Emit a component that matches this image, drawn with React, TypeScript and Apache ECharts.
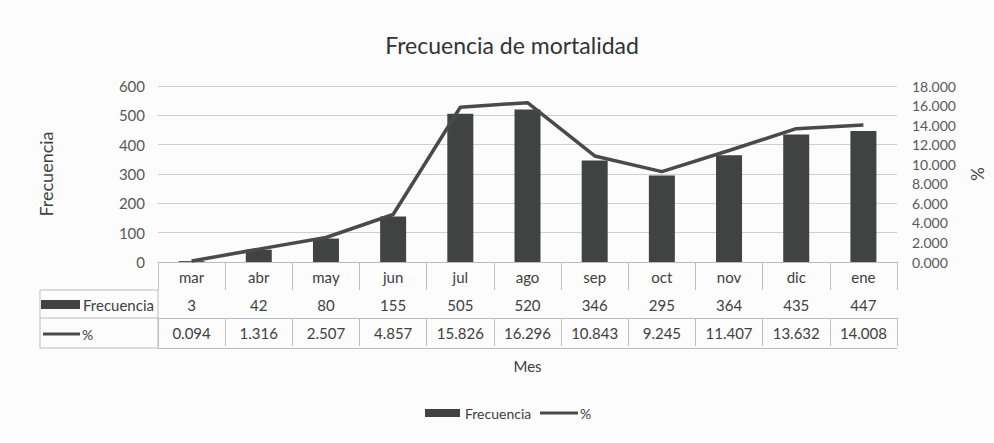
import React, { useEffect, useRef } from "react";
import * as echarts from "echarts";

const months = ["mar", "abr", "may", "jun", "jul", "ago", "sep", "oct", "nov", "dic", "ene"];
const frecuencia = [3, 42, 80, 155, 505, 520, 346, 295, 364, 435, 447];
const porcentaje = [0.094, 1.316, 2.507, 4.857, 15.826, 16.296, 10.843, 9.245, 11.407, 13.632, 14.008];
const leftTicks = { min: 0, max: 600, interval: 100 };
const rightTicks = { min: 0, max: 18, interval: 2 };

const FONT = "Lato, 'Open Sans', sans-serif";
const TXT = "#404040";
const TABLE_LINE = "#bdbdbd";
const BAR = "#404342";
const LINE = "#4a4a4a";

export default function App() {
  const ref = useRef<HTMLDivElement>(null);
  useEffect(() => {
    if (!ref.current) return;
    const chart = echarts.init(ref.current, null, { renderer: "svg" });
    const tableAxis = (data: string[], offset: number, showLabel: boolean, showTick: boolean) => ({
      type: "category",
      gridIndex: 0,
      position: "bottom",
      offset,
      data,
      boundaryGap: true,
      axisLine: { show: true, lineStyle: { color: TABLE_LINE, width: 1 } },
      axisTick: { show: showTick, length: 28, lineStyle: { color: TABLE_LINE } },
      axisLabel: { show: showLabel, margin: 7, fontSize: 15, color: TXT, fontFamily: FONT, interval: 0 },
      splitLine: { show: false },
    });
    chart.setOption({
      animation: false,
      backgroundColor: "#fcfcfc",
      textStyle: { fontFamily: FONT },
      title: {
        text: "Frecuencia de mortalidad",
        left: 507,
        textAlign: "center",
        top: 28,
        textStyle: { fontSize: 23, fontWeight: "normal", color: "#333", fontFamily: FONT },
      },
      grid: { left: 158, right: 96, top: 86, height: 176 },
      legend: [
        {
          left: 420,
          top: 401,
          itemWidth: 35,
          itemHeight: 8,
          itemGap: 4,
          textStyle: { fontSize: 14, color: TXT, fontFamily: FONT },
          data: [{ name: "Frecuencia", icon: "rect" }],
        },
        {
          left: 535,
          top: 401,
          itemWidth: 38,
          itemHeight: 3,
          textStyle: { fontSize: 14, color: TXT, fontFamily: FONT, padding: [0, 0, 0, -3] },
          data: [{ name: "%", icon: "rect" }],
        },
      ],
      xAxis: [
        {
          ...tableAxis(months, 0, true, true),
          name: "Mes",
          nameLocation: "middle",
          nameGap: 96,
          nameTextStyle: { fontSize: 15, color: TXT, fontFamily: FONT },
        },
        tableAxis(frecuencia.map(String), 28, true, true),
        tableAxis(porcentaje.map((v) => v.toFixed(3)), 56, true, true),
        tableAxis(months.map(() => ""), 86, false, false),
      ],
      yAxis: [
        {
          type: "value",
          ...leftTicks,
          name: "Frecuencia",
          nameLocation: "middle",
          nameRotate: 90,
          nameGap: 103,
          nameTextStyle: { fontSize: 18, color: TXT, fontFamily: FONT },
          axisLine: { show: false },
          axisTick: { show: false },
          axisLabel: { fontSize: 15, color: "#595959", margin: 13, fontFamily: FONT },
          splitLine: { lineStyle: { color: "#cfcfcf" } },
        },
        {
          type: "value",
          ...rightTicks,
          position: "right",
          name: "%",
          nameLocation: "middle",
          nameRotate: -90,
          nameGap: 72,
          nameTextStyle: { fontSize: 17, color: TXT, fontFamily: FONT },
          axisLine: { show: false },
          axisTick: { show: false },
          axisLabel: {
            fontSize: 14,
            color: "#595959",
            margin: 15,
            fontFamily: FONT,
            formatter: (v: number) => v.toFixed(3),
          },
          splitLine: { show: false },
        },
      ],
      series: [
        {
          name: "Frecuencia",
          type: "bar",
          xAxisIndex: 0,
          yAxisIndex: 0,
          data: frecuencia,
          barWidth: 26,
          itemStyle: { color: BAR },
        },
        {
          name: "%",
          type: "line",
          xAxisIndex: 0,
          yAxisIndex: 1,
          data: porcentaje,
          smooth: false,
          symbol: "none",
          lineStyle: { color: LINE, width: 3.5 },
          itemStyle: { color: LINE },
        },
      ],
      graphic: [
        {
          type: "rect",
          shape: { x: 40, y: 290, width: 118, height: 58 },
          style: { fill: "none", stroke: TABLE_LINE, lineWidth: 1 },
        },
        {
          type: "line",
          shape: { x1: 40, y1: 318, x2: 158, y2: 318 },
          style: { stroke: TABLE_LINE, lineWidth: 1 },
        },
        {
          type: "rect",
          shape: { x: 41, y: 300, width: 39, height: 9 },
          style: { fill: BAR },
        },
        {
          type: "text",
          x: 83,
          y: 305,
          style: { text: "Frecuencia", fontSize: 15, fill: TXT, fontFamily: FONT, verticalAlign: "middle" },
        },
        {
          type: "line",
          shape: { x1: 43, y1: 334, x2: 80, y2: 334 },
          style: { stroke: LINE, lineWidth: 3 },
        },
        {
          type: "text",
          x: 82,
          y: 334,
          style: { text: "%", fontSize: 14, fill: TXT, fontFamily: FONT, verticalAlign: "middle" },
        },
      ],
    });
    return () => chart.dispose();
  }, []);
  return (
    <div
      ref={ref}
      style={{ position: "absolute", left: 0, top: 0, width: 994, height: 443 }}
    />
  );
}
